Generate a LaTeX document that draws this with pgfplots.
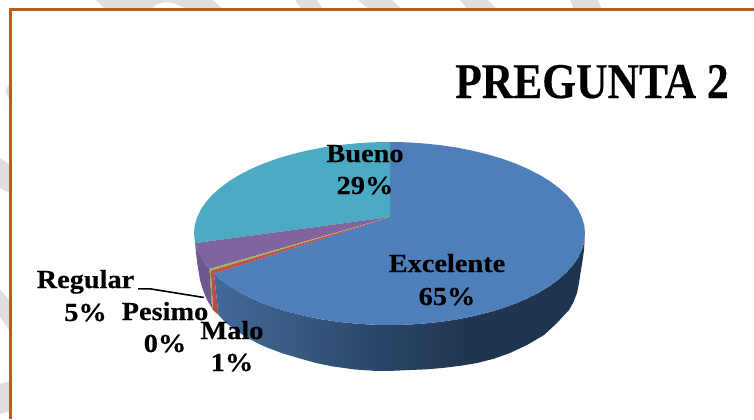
\documentclass[border=0pt]{standalone}
\usepackage{fontspec}
\setmainfont{Liberation Serif}[BoldFeatures={FakeBold=0.4}]
\usepackage{pgfplots}
\pgfplotsset{compat=1.18}
\definecolor{wm}{HTML}{DEDEDE}
\definecolor{frameor}{HTML}{B4601C}
\definecolor{pblue}{HTML}{4F7FBA}
\definecolor{pteal}{HTML}{4BAAC4}
\definecolor{ppurple}{HTML}{8064A0}
\definecolor{pred}{HTML}{C0504D}
\definecolor{pgreen}{HTML}{9BBB59}
\definecolor{spurple}{HTML}{6F5790}
\definecolor{sred}{HTML}{B84C49}
\definecolor{sgreen}{HTML}{8FAE50}
\definecolor{sb1}{HTML}{41699A}
\definecolor{sb2}{HTML}{38597F}
\definecolor{sb3}{HTML}{2B466A}
\definecolor{sb4}{HTML}{203650}
\definecolor{sb5}{HTML}{1F344E}
\pgfdeclarehorizontalshading{sideblue}{100bp}{color(0bp)=(sb1); color(25bp)=(sb1); color(36.6bp)=(sb2); color(46.7bp)=(sb3); color(59.2bp)=(sb4); color(75bp)=(sb5); color(100bp)=(sb5)}
\newcommand{\lab}[1]{\fontsize{19.5pt}{20pt}\selectfont\bfseries\scalebox{1.09}[1]{#1}}
\begin{document}
\begin{tikzpicture}
\begin{axis}[
  hide axis, scale only axis, width=565.5pt, height=314.25pt,
  xmin=0, xmax=754, ymin=0, ymax=419, y dir=reverse, no markers]
% watermark
\addplot[fill=wm,draw=none] coordinates {(96,0)(106,10)(150,10)(157,4)(165,2)(173,3)(190,10)(224,10)(213,0)} -- cycle;
\addplot[fill=wm,draw=none] coordinates {(295,0)(302,10)(324,10)(317,0)} -- cycle;
\addplot[fill=wm,draw=none] coordinates {(358,0)(370,10)(403,10)(392,0)} -- cycle;
\addplot[fill=wm,draw=none] coordinates {(460,0)(468,10)(498,10)(488,0)} -- cycle;
\addplot[fill=wm,draw=none] coordinates {(570,0)(574,10)(602,10)(598,0)} -- cycle;
\addplot[fill=wm,draw=none] coordinates {(10,83)(6,89)(6,93)(10,100)} -- cycle;
\addplot[fill=wm,draw=none] coordinates {(0,158)(10,165)(10,193)(0,188)} -- cycle;
\addplot[fill=wm,draw=none] coordinates {(0,289)(10,301)(10,331)(0,317)} -- cycle;
\addplot[fill=wm,draw=none] coordinates {(0,384)(10,381)(10,411)(0,414)} -- cycle;
% frame
\addplot[frameor,line width=1.9pt] coordinates {(754,9.7)(10.7,9.7)(10.7,419)};
% sides
\addplot[shading=sideblue,draw=none] coordinates {
 (585,233.5)(584.3,241.5)(582,249.4)(578.3,257.2)(573.2,264.8)(566.7,272.2)(558.8,279.3)(549.7,286)(539.3,292.3)(527.7,298.2)(515.2,303.6)(501.6,308.5)(487.3,312.7)(472.1,316.4)(456.4,319.5)(440.1,321.9)(423.4,323.6)(406.5,324.7)(389.5,325)(372.5,324.7)(355.6,323.6)(338.9,321.9)(322.6,319.5)(306.9,316.4)(291.8,312.7)(277.4,308.5)(263.8,303.6)(251.3,298.2)(239.7,292.3)(229.3,286)(220.2,279.3)(214,273.8)
 (218.5,315)(225,322)(235,330)(247,337.5)(257,343)(267,347.5)(283,353.5)(300,358.5)(316,363)(333,366.5)(355,369.5)(377,371)(393,370.8)(410,370)(427,369.3)(444,367.8)(461,365.7)(477,363)(494,358.7)(510,353)(527,345)(544,335)(557,323)(569,310)(573.5,302)(577,293)(579,283)(580.5,273)(582.5,261)(584,250)} -- cycle;
\addplot[fill=sred,draw=none] coordinates {(210.9,270.7)(214,273.8)(218.5,315)(213,310)} -- cycle;
\addplot[fill=sgreen,draw=none] coordinates {(209.5,269)(210.9,270.7)(213,310)(212,308)} -- cycle;
\addplot[fill=spurple,draw=none] coordinates {(195.1,243.1)(197,249.4)(201,257)(205.8,264.8)(209.5,269)(212,308)(207,300)(203,290)(200,280)(197.5,265)(196,253)} -- cycle;
% top: Excelente 65%
\addplot[fill=pblue,draw=none] coordinates {(390,217)(389.5,142)(406.5,142.3)(423.4,143.4)(440.1,145.1)(456.4,147.5)(472.1,150.6)(487.3,154.3)(501.6,158.5)(515.2,163.4)(527.7,168.8)(539.3,174.7)(549.7,181)(558.8,187.8)(566.7,194.8)(573.2,202.2)(578.3,209.8)(582,217.6)(584.3,225.5)(585,233.5)(584.3,241.5)(582,249.4)(578.3,257.2)(573.2,264.8)(566.7,272.2)(558.8,279.3)(549.7,286)(539.3,292.3)(527.7,298.2)(515.2,303.6)(501.6,308.5)(487.3,312.7)(472.1,316.4)(456.4,319.5)(440.1,321.9)(423.4,323.6)(406.5,324.7)(389.5,325)(372.5,324.7)(355.6,323.6)(338.9,321.9)(322.6,319.5)(306.9,316.4)(291.8,312.7)(277.4,308.5)(263.8,303.6)(251.3,298.2)(239.7,292.3)(229.3,286)(220.2,279.3)(214,273.8)} -- cycle;
% top: Bueno 29%
\addplot[fill=pteal,draw=none] coordinates {(390,217)(195.1,243.1)(194,233.5)(194.7,225.5)(197,217.6)(200.7,209.8)(205.8,202.2)(212.3,194.8)(220.2,187.8)(229.3,181)(239.7,174.7)(251.3,168.8)(263.8,163.4)(277.4,158.5)(291.8,154.3)(306.9,150.6)(322.6,147.5)(338.9,145.1)(355.6,143.4)(372.5,142.3)(389.5,142)(390,142)} -- cycle;
% top: Regular 5%
\addplot[fill=ppurple,draw=none] coordinates {(390,217)(195.1,243.1)(197,249.4)(200.7,257.2)(205.8,264.8)(209.5,269)} -- cycle;
% top: Pesimo 0%
\addplot[fill=pgreen,draw=none] coordinates {(390,217)(209.5,269)(210.9,270.7)} -- cycle;
% top: Malo 1%
\addplot[fill=pred,draw=none] coordinates {(390,217)(210.9,270.7)(214,273.8)} -- cycle;
% leader
\addplot[black,line width=1.2pt] coordinates {(138,288.8)(150,288.8)(204,297.5)};
% text
\node[anchor=base] at (axis cs:592,98) {\fontsize{37.5pt}{40pt}\selectfont\bfseries\scalebox{0.87}[1]{PREGUNTA 2}};
\node[anchor=base] at (axis cs:365,162) {\lab{Bueno}};
\node[anchor=base] at (axis cs:365,194) {\lab{29\%}};
\node[anchor=base] at (axis cs:447,272) {\lab{Excelente}};
\node[anchor=base] at (axis cs:447,305) {\lab{65\%}};
\node[anchor=base] at (axis cs:85.5,288) {\lab{Regular}};
\node[anchor=base] at (axis cs:85.5,321) {\lab{5\%}};
\node[anchor=base] at (axis cs:165,320) {\lab{Pesimo}};
\node[anchor=base] at (axis cs:165,352) {\lab{0\%}};
\node[anchor=base] at (axis cs:232,339) {\lab{Malo}};
\node[anchor=base] at (axis cs:232,371) {\lab{1\%}};
\end{axis}
\end{tikzpicture}
\end{document}
